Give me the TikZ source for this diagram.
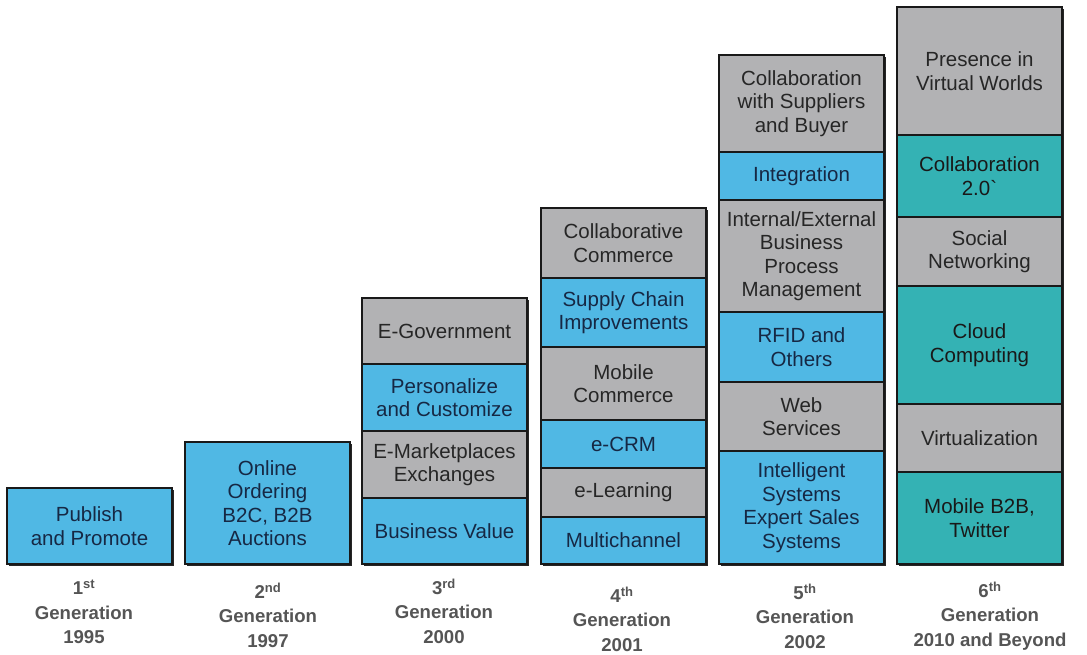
\documentclass[tikz,border=0pt]{standalone}
\usepackage{fontspec}
\setmainfont{Liberation Sans}
\usepackage{tikz}
\usetikzlibrary{positioning}
\definecolor{segblue}{RGB}{80,184,228}
\definecolor{segteal}{RGB}{52,178,180}
\definecolor{seggray}{RGB}{178,178,180}
\definecolor{txtblue}{RGB}{22,40,68}
\definecolor{txtgray}{RGB}{38,38,38}
\definecolor{labgray}{RGB}{85,85,85}

\begin{document}
\begin{tikzpicture}[x=1pt, y=-1pt,
			seg/.style={draw=black!90, line width=1.2pt, minimum width=165pt,
				inner sep=0pt, outer sep=0pt, align=center,
				font=\fontsize{20.5}{23.5}\selectfont},
			bseg/.style={seg, fill=segblue, text=txtblue},
			gseg/.style={seg, fill=seggray, text=txtgray},
			tseg/.style={seg, fill=segteal, text=black!90},
			gen/.style={align=center, text=labgray,
				font=\fontsize{18.6}{24.5}\selectfont\bfseries},
			colshadow/.style={fill=black!85}]
			\useasboundingbox (0,0) rectangle (1087,654);
			% shadows behind the columns
			\foreach \x/\t in {7/488, 185/442, 362/298, 541/208, 719/55, 897/7}
				\fill[colshadow] (\x+2,\t+2) rectangle (\x+167,566);
			% 1st generation
			\node[bseg, minimum height=76pt, anchor=north west] (g1a) at (7,488) {Publish\\and Promote};
			% 2nd generation
			\node[bseg, minimum height=122pt, anchor=north west] (g2a) at (185,442) {Online\\Ordering\\B2C, B2B\\Auctions};
			% 3rd generation
			\node[gseg, minimum height=66pt, anchor=north west] (g3a) at (362,298) {E-Government};
			\node[bseg, minimum height=67pt, below=0pt of g3a] (g3b) {Personalize\\and Customize};
			\node[gseg, minimum height=67pt, below=0pt of g3b] (g3c) {E-Marketplaces\\Exchanges};
			\node[bseg, minimum height=66pt, below=0pt of g3c] (g3d) {Business Value};
			% 4th generation
			\node[gseg, minimum height=70pt, anchor=north west] (g4a) at (541,208) {Collaborative\\Commerce};
			\node[bseg, minimum height=69pt, below=0pt of g4a] (g4b) {Supply Chain\\Improvements};
			\node[gseg, minimum height=73pt, below=0pt of g4b] (g4c) {Mobile\\Commerce};
			\node[bseg, minimum height=48pt, below=0pt of g4c] (g4d) {e-CRM};
			\node[gseg, minimum height=49pt, below=0pt of g4d] (g4e) {e-Learning};
			\node[bseg, minimum height=47pt, below=0pt of g4e] (g4f) {Multichannel};
			% 5th generation
			\node[gseg, minimum height=97pt, anchor=north west] (g5a) at (719,55) {Collaboration\\with Suppliers\\and Buyer};
			\node[bseg, minimum height=48pt, below=0pt of g5a] (g5b) {Integration};
			\node[gseg, minimum height=112pt, below=0pt of g5b] (g5c) {Internal/External\\Business\\Process\\Management};
			\node[bseg, minimum height=70pt, below=0pt of g5c] (g5d) {RFID and\\Others};
			\node[gseg, minimum height=69pt, below=0pt of g5d] (g5e) {Web\\Services};
			\node[bseg, minimum height=113pt, below=0pt of g5e] (g5f) {Intelligent\\Systems\\Expert Sales\\Systems};
			% 6th generation
			\node[gseg, minimum height=128pt, anchor=north west] (g6a) at (897,7) {Presence in\\Virtual Worlds};
			\node[tseg, minimum height=82pt, below=0pt of g6a] (g6b) {Collaboration\\2.0\textasciigrave};
			\node[gseg, minimum height=69pt, below=0pt of g6b] (g6c) {Social\\Networking};
			\node[tseg, minimum height=118pt, below=0pt of g6c] (g6d) {Cloud\\Computing};
			\node[gseg, minimum height=68pt, below=0pt of g6d] (g6e) {Virtualization};
			\node[tseg, minimum height=92pt, below=0pt of g6e] (g6f) {Mobile B2B,\\Twitter};
			% generation labels
			\node[gen] (l1) at (84,612) {1\textsuperscript{st}\\Generation\\1995};
			\node[gen] (l2) at (268,615) {2\textsuperscript{nd}\\Generation\\1997};
			\node[gen] (l3) at (444,611) {3\textsuperscript{rd}\\Generation\\2000};
			\node[gen] (l4) at (622,619) {4\textsuperscript{th}\\Generation\\2001};
			\node[gen] (l5) at (805,616) {5\textsuperscript{th}\\Generation\\2002};
			\node[gen] (l6) at (990,616) {6\textsuperscript{th}\\Generation\\2010 and Beyond};
		\end{tikzpicture}
\end{document}
